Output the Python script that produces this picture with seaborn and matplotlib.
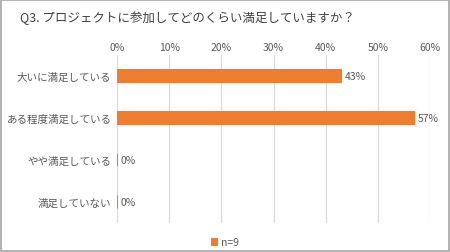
import matplotlib
matplotlib.use("Agg")
import matplotlib.pyplot as plt
import seaborn as sns
import pandas as pd
from matplotlib.patches import Rectangle

categories = ["大いに満足している", "ある程度満足している", "やや満足している", "満足していない"]
values = [43, 57, 0, 0]
value_labels = ["43%", "57%", "0%", "0%"]
tick_values = [0, 10, 20, 30, 40, 50, 60]
tick_labels = ["0%", "10%", "20%", "30%", "40%", "50%", "60%"]
title = "Q3. プロジェクトに参加してどのくらい満足していますか？"
legend_label = "n=9"

sns.set_theme(style="white")
plt.rcParams['font.family'] = ['Noto Sans CJK JP', 'DejaVu Sans']

TXT = "#595959"
ORANGE = "#ED7D31"

df = pd.DataFrame({"cat": categories, "val": values})

fig = plt.figure(figsize=(4.5, 2.53), dpi=100)
ax = fig.add_axes([0.26, 0.115, 0.6956, 0.664])

sns.barplot(data=df, x="val", y="cat", color=ORANGE, saturation=1, width=0.31,
            edgecolor=ORANGE, linewidth=0.8, ax=ax, label=legend_label)

ax.set_xlim(0, 60)
ax.set_xticks(tick_values)
ax.set_xticklabels(tick_labels)
ax.xaxis.tick_top()
ax.tick_params(axis="x", length=0, pad=2, labelsize=7.5, labelcolor=TXT)
ax.tick_params(axis="y", length=0, pad=4, labelsize=7.6, labelcolor=TXT)
ax.set_xlabel("")
ax.set_ylabel("")
for s in ax.spines.values():
    s.set_visible(False)
ax.grid(axis="x", color="#D9D9D9", linewidth=0.9)
ax.set_axisbelow(True)

for i, (v, lab) in enumerate(zip(values, value_labels)):
    ax.text(v + 0.6, i, lab, va="center", ha="left", fontsize=7.5, color=TXT)

fig.text(0.045, 0.93, title, fontsize=9, color="#404040", ha="left", va="center")

leg = ax.legend(loc="center", frameon=False, fontsize=7.5, handlelength=0.6,
                handleheight=0.6, handletextpad=0.4)
leg.set_bbox_to_anchor((0.5, 0.04), transform=fig.transFigure)
for t in leg.get_texts():
    t.set_color(TXT)

fig.patches.append(Rectangle((0.002, 0.004), 0.996, 0.992, transform=fig.transFigure,
                             fill=False, edgecolor="#A6A6A6", linewidth=1.2))

fig.savefig("out.png", dpi=100)
